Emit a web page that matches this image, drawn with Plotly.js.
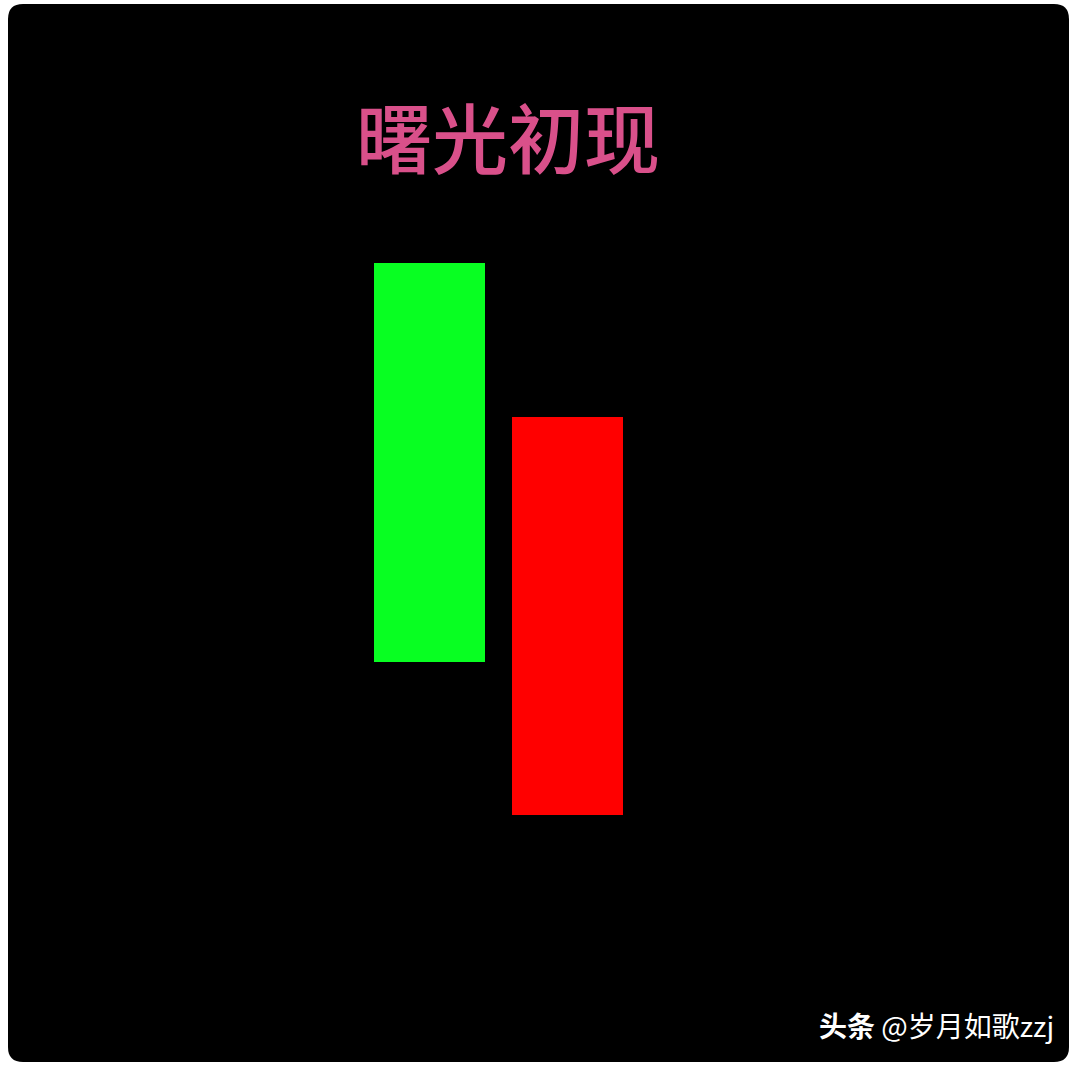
<!DOCTYPE html>
<html>
<head>
<meta charset="utf-8">
<script src="https://cdn.plot.ly/plotly-3.0.1.min.js"></script>
<style>
  html, body { margin: 0; padding: 0; background: #ffffff; }
  #chart { width: 1080px; height: 1065px; }
</style>
</head>
<body>
<div id="chart"></div>
<script>
// ---- data ----
const candleX = [1, 2];
const candleOpen = [75.5, 23.3];
const candleClose = [37.8, 61.0];
const candleColors = ['#08FF22', '#FF0000'];
const titleText = '曙光初现';
const watermarkText = '<b>头条</b> @岁月如歌zzj';

// ---- build bars (body of each candle) ----
const base = candleOpen.map((o, i) => Math.min(o, candleClose[i]));
const body = candleOpen.map((o, i) => Math.abs(candleClose[i] - o));

// plot area in page pixels
const W = 1080, H = 1065;
const L = 8, R = 1069, T = 4, B = 1062;
const pw = R - L, ph = B - T;
const px = x => (x - L) / pw;
const py = y => (B - y) / ph;
const rx = 15 / pw, ry = 15 / ph;

const trace = {
  type: 'bar',
  x: candleX,
  y: body,
  base: base,
  width: 0.81,
  marker: { color: candleColors, line: { width: 0 } },
  hoverinfo: 'skip'
};

const roundRect = `M ${rx},0 L ${1 - rx},0 Q 1,0 1,${ry} L 1,${1 - ry} Q 1,1 ${1 - rx},1 L ${rx},1 Q 0,1 0,${1 - ry} L 0,${ry} Q 0,0 ${rx},0 Z`;

const layout = {
  width: W, height: H,
  margin: { l: L, r: W - R, t: T, b: H - B, pad: 0 },
  paper_bgcolor: '#ffffff',
  plot_bgcolor: 'rgba(0,0,0,0)',
  showlegend: false,
  bargap: 0,
  xaxis: { range: [-2.054, 5.634], visible: false, fixedrange: true },
  yaxis: { range: [0, 100], visible: false, fixedrange: true },
  shapes: [{
    type: 'path', xref: 'paper', yref: 'paper', layer: 'below',
    path: roundRect, fillcolor: '#000000', line: { width: 0 }
  }],
  annotations: [
    {
      text: titleText, xref: 'paper', yref: 'paper',
      x: px(508), y: py(135), xanchor: 'center', yanchor: 'middle',
      showarrow: false,
      font: { family: 'Noto Sans CJK SC, sans-serif', size: 76, weight: 500, color: '#D9508A' }
    },
    {
      text: watermarkText, xref: 'paper', yref: 'paper',
      x: px(1056), y: py(1025), xanchor: 'right', yanchor: 'middle',
      showarrow: false,
      font: { family: 'Noto Sans CJK SC, sans-serif', size: 28, color: '#ffffff' }
    }
  ]
};

Plotly.newPlot('chart', [trace], layout, { displayModeBar: false, staticPlot: true });
</script>
</body>
</html>
